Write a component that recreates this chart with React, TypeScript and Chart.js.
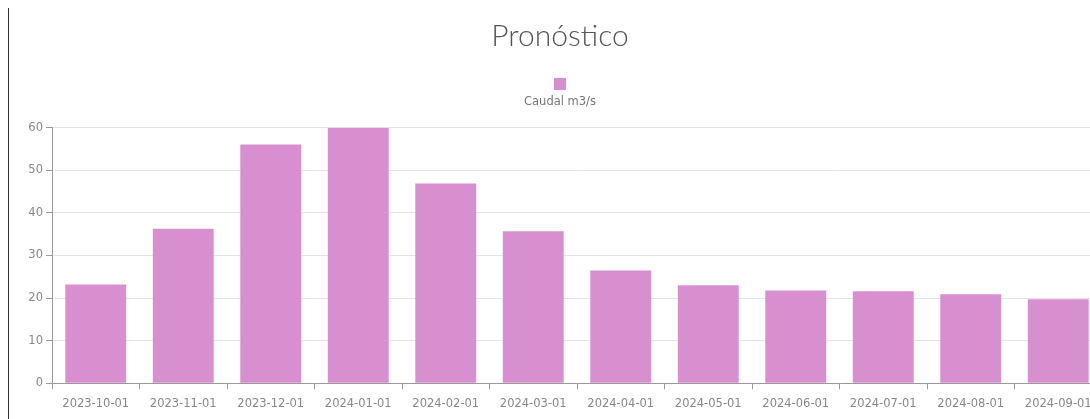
import React, { useEffect, useRef } from "react";
import { Chart, registerables } from "chart.js";

Chart.register(...registerables);

const categories = [
  "2023-10-01", "2023-11-01", "2023-12-01", "2024-01-01", "2024-02-01", "2024-03-01",
  "2024-04-01", "2024-05-01", "2024-06-01", "2024-07-01", "2024-08-01", "2024-09-01",
];
const caudal = [23.2, 36.3, 56.1, 60.0, 46.9, 35.7, 26.5, 23.0, 21.8, 21.6, 20.9, 19.7];
const seriesLabel = "Caudal m3/s";
const titleText = "Pronóstico";
const yTicks = { min: 0, max: 60, step: 10 };

const BAR_COLOR = "#d88fd0";

const legendBoxPlugin = {
  id: "legendBoxAbove",
  afterDraw(chart: any) {
    const tb = chart.titleBlock;
    if (!tb) return;
    const ctx = chart.ctx;
    const cx = (tb.left + tb.right) / 2;
    const size = 12;
    const top = tb.bottom - 17;
    ctx.save();
    ctx.fillStyle = chart.data.datasets[0].backgroundColor;
    ctx.fillRect(cx - size / 2, top, size, size);
    ctx.restore();
  },
};

export default function App() {
  const ref = useRef<HTMLCanvasElement | null>(null);
  useEffect(() => {
    document.documentElement.style.overflow = "hidden";
    document.body.style.marginRight = "0";
    if (!ref.current) return;
    const chart = new Chart(ref.current, {
      type: "bar",
      data: {
        labels: categories,
        datasets: [
          {
            label: seriesLabel,
            data: caudal,
            backgroundColor: BAR_COLOR,
            borderWidth: 0,
            categoryPercentage: 0.8,
            barPercentage: 0.87,
          },
        ],
      },
      options: {
        responsive: false,
        animation: false,
        layout: { padding: { left: 9, right: 9, top: 0, bottom: 0 } },
        plugins: {
          legend: { display: false },
          tooltip: { enabled: false },
          title: {
            display: true,
            text: titleText,
            color: "#555",
            font: { family: "Lato", size: 30, weight: "300" as any },
            padding: { top: 10, bottom: 41 },
          },
          subtitle: {
            display: true,
            text: seriesLabel,
            color: "#777",
            font: { family: "DejaVu Sans", size: 11.5 },
            padding: { top: 0, bottom: 19 },
          },
        },
        scales: {
          x: {
            offset: true,
            grid: {
              display: true,
              drawOnChartArea: false,
              tickLength: 6,
              tickColor: "#999",
              offset: true,
            },
            border: { color: "#999" },
            ticks: {
              color: "#888",
              font: { family: "DejaVu Sans", size: 11.5 },
              padding: 8,
              maxRotation: 0,
              autoSkip: false,
            },
          },
          y: {
            min: yTicks.min,
            max: yTicks.max,
            afterFit(scale: any) {
              scale.width = 34;
            },
            grid: {
              color: "#e4e4e4",
              tickColor: "#999",
              tickLength: 6,
            },
            border: { color: "#999" },
            ticks: {
              stepSize: yTicks.step,
              color: "#888",
              font: { family: "DejaVu Sans", size: 11.5 },
              padding: 3,
            },
          },
        },
      },
      plugins: [legendBoxPlugin],
    });
    return () => chart.destroy();
  }, []);

  return (
    <div
      style={{
        position: "relative",
        width: 1103,
        height: 411,
        borderLeft: "1px solid #333",
        boxSizing: "border-box",
        background: "#fff",
      }}
    >
      <canvas ref={ref} width={1102} height={411} style={{ display: "block", width: 1102, height: 411 }} />
    </div>
  );
}
